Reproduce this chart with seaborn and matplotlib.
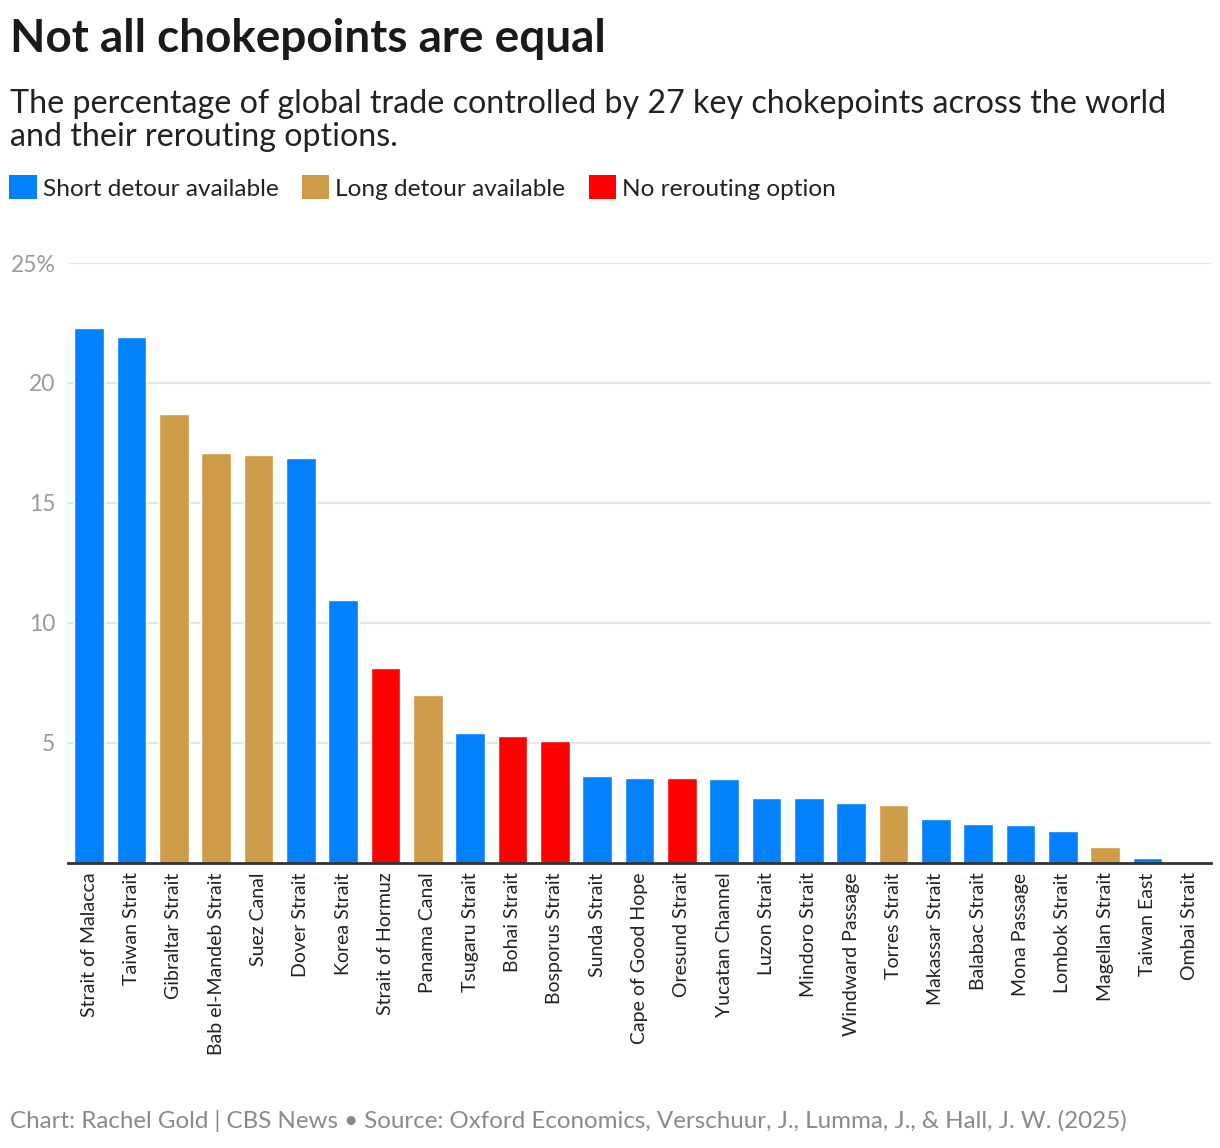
"""
Not all chokepoints are equal: share of global trade by chokepoint.
Run: python plot.py
"""

import matplotlib
matplotlib.use("Agg")
import matplotlib.pyplot as plt
from matplotlib.patches import Patch
import pandas as pd
import seaborn as sns

# ── Data ───────────────────────────────────────────────
chokepoints = [
    "Strait of Malacca", "Taiwan Strait", "Gibraltar Strait",
    "Bab el-Mandeb Strait", "Suez Canal", "Dover Strait", "Korea Strait",
    "Strait of Hormuz", "Panama Canal", "Tsugaru Strait", "Bohai Strait",
    "Bosporus Strait", "Sunda Strait", "Cape of Good Hope", "Oresund Strait",
    "Yucatan Channel", "Luzon Strait", "Mindoro Strait", "Windward Passage",
    "Torres Strait", "Makassar Strait", "Balabac Strait", "Mona Passage",
    "Lombok Strait", "Magellan Strait", "Taiwan East", "Ombai Strait",
]
trade_share = [
    22.28, 21.9, 18.7, 17.07, 16.99, 16.86, 10.95,
    8.11, 7.0, 5.4, 5.28, 5.07, 3.61, 3.53, 3.53,
    3.49, 2.69, 2.69, 2.49, 2.41, 1.82, 1.61, 1.57,
    1.32, 0.65, 0.2, 0.02,
]
SHORT, LONG, NONE = ("Short detour available", "Long detour available",
                     "No rerouting option")
rerouting = [
    SHORT, SHORT, LONG, LONG, LONG, SHORT, SHORT,
    NONE, LONG, SHORT, NONE, NONE, SHORT, SHORT, NONE,
    SHORT, SHORT, SHORT, SHORT, LONG, SHORT, SHORT, SHORT,
    SHORT, LONG, SHORT, SHORT,
]
y_ticks = [5, 10, 15, 20, 25]
y_tick_labels = ["5", "10", "15", "20", "25%"]

palette = {SHORT: "#0281FF", LONG: "#CE9C48", NONE: "#FF0000"}

df = pd.DataFrame({"chokepoint": chokepoints, "share": trade_share,
                   "rerouting": rerouting})

# ── Style ──────────────────────────────────────────────
sns.set_style("white")
plt.rcParams["font.family"] = ["Lato", "DejaVu Sans"]

W, H = 1220, 1148
fig = plt.figure(figsize=(W / 100, H / 100), dpi=100)
ax = fig.add_axes([68 / W, 1 - 862.7 / H, (1211 - 68) / W, (862.7 - 263) / H])

sns.barplot(
    data=df, x="chokepoint", y="share", hue="rerouting",
    palette=palette, dodge=False, width=0.7, saturation=1,
    legend=False, ax=ax, zorder=3
)

ax.set_xlim(-0.5, len(chokepoints) - 0.5)
ax.set_ylim(0, 25)
ax.set_yticks(y_ticks)
ax.set_yticklabels(y_tick_labels, fontsize=16.5, color="#9a9a9a")
ax.set_xticks(range(len(chokepoints)))
ax.set_xticklabels(chokepoints, rotation=90, fontsize=14, color="#222222")
ax.tick_params(axis="both", length=0)
ax.tick_params(axis="y", pad=9)
ax.tick_params(axis="x", pad=7)
ax.set_xlabel("")
ax.set_ylabel("")
ax.grid(axis="y", color="#e4e4e4", linewidth=1.5, zorder=0)
for side in ["top", "right", "left"]:
    ax.spines[side].set_visible(False)
ax.spines["bottom"].set_color("#333333")
ax.spines["bottom"].set_linewidth(2)
ax.spines["bottom"].set_zorder(4)

# ── Titles ─────────────────────────────────────────────
fig.text(10 / W, 1 - 52 / H, "Not all chokepoints are equal",
         fontsize=33, fontweight="bold", color="#1a1a1a", va="baseline")
fig.text(10 / W, 1 - 113 / H,
         "The percentage of global trade controlled by 27 key chokepoints "
         "across the world", fontsize=23.25, color="#222222", va="baseline")
fig.text(10 / W, 1 - 146 / H, "and their rerouting options.",
         fontsize=23.25, color="#222222", va="baseline")

# ── Legend ─────────────────────────────────────────────
handles = [Patch(facecolor=palette[k], edgecolor="none", label=k)
           for k in (SHORT, LONG, NONE)]
fig.legend(
    handles=handles, loc="upper left", bbox_to_anchor=(2 / W, 1 - 168 / H),
    ncol=3, frameon=False, fontsize=17.6, handlelength=1.12,
    handleheight=1.12, handletextpad=0.25, columnspacing=0.95,
    borderaxespad=0, borderpad=0.3, labelcolor="#222222"
)

# ── Footer ─────────────────────────────────────────────
fig.text(10 / W, 1 - 1128 / H,
         "Chart: Rachel Gold | CBS News \u2022 Source: Oxford Economics, "
         "Verschuur, J., Lumma, J., & Hall, J. W. (2025)",
         fontsize=17.4, color="#8a8a8a", va="baseline")

fig.savefig("out.png", dpi=100)
plt.close(fig)
